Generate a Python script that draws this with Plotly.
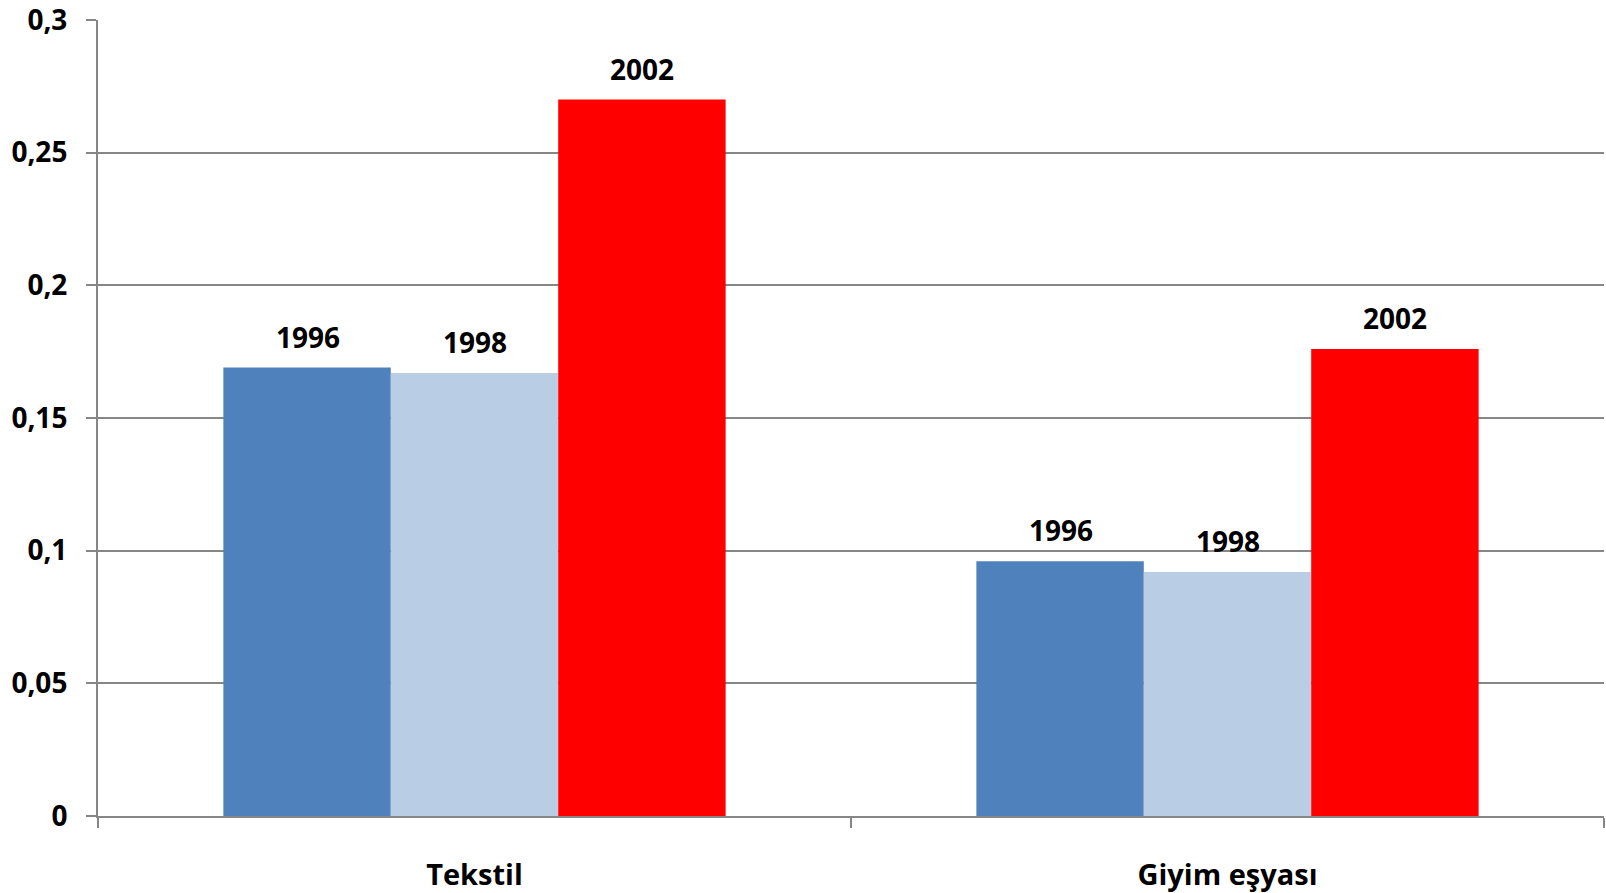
import plotly.graph_objects as go

categories = ["Tekstil", "Giyim eşyası"]
years = ["1996", "1998", "2002"]
values_1996 = [0.169, 0.096]
values_1998 = [0.167, 0.092]
values_2002 = [0.270, 0.176]
colors = ["#4F81BD", "#B9CDE5", "#FF0000"]

series = [values_1996, values_1998, values_2002]
FONT = "Open Sans"

fig = go.Figure()
for yr, vals, col in zip(years, series, colors):
    fig.add_trace(go.Bar(x=categories, y=vals, name=yr, marker=dict(color=col, line=dict(width=0)),
                         hoverinfo="skip"))

# data labels above bars
bar_px = 167
for i, (yr, vals) in enumerate(zip(years, series)):
    for cat, v in zip(categories, vals):
        fig.add_annotation(x=cat, y=v, text=f"<b>{yr}</b>", showarrow=False,
                           xshift=(i - 1) * bar_px, yshift=31, yanchor="middle",
                           font=dict(family=FONT, size=28, color="black"))

fig.update_layout(
    width=1606, height=893,
    margin=dict(l=98, r=2, t=20, b=77),
    plot_bgcolor="white", paper_bgcolor="white",
    barmode="group", bargap=0.333, bargroupgap=0,
    showlegend=False,
    separators=",.",
    font=dict(family=FONT, color="black"),
)
fig.update_xaxes(
    type="category", tickson="boundaries", ticks="outside", ticklen=10, tickcolor="#868686", tickwidth=1.5,
    showline=True, linecolor="#868686", linewidth=2, showgrid=False, automargin=False,
    tickfont=dict(family=FONT, size=29, color="black", weight="bold"),
    ticklabelstandoff=32, ticklabeloverflow="allow",
)
fig.update_yaxes(
    range=[0, 0.3], dtick=0.05, tick0=0, ticks="outside", ticklen=10, tickcolor="#868686", tickwidth=1.5,
    showline=True, linecolor="#868686", linewidth=2, automargin=False,
    showgrid=True, gridcolor="#868686", gridwidth=1.5, zeroline=False,
    tickfont=dict(family=FONT, size=28, color="black", weight="bold"),
    ticklabelstandoff=13, ticklabeloverflow="allow",
)

fig.write_html(
    "out.html",
    config={"displayModeBar": False},
    post_script="document.body.style.margin='0';document.body.style.overflow='hidden';",
)
